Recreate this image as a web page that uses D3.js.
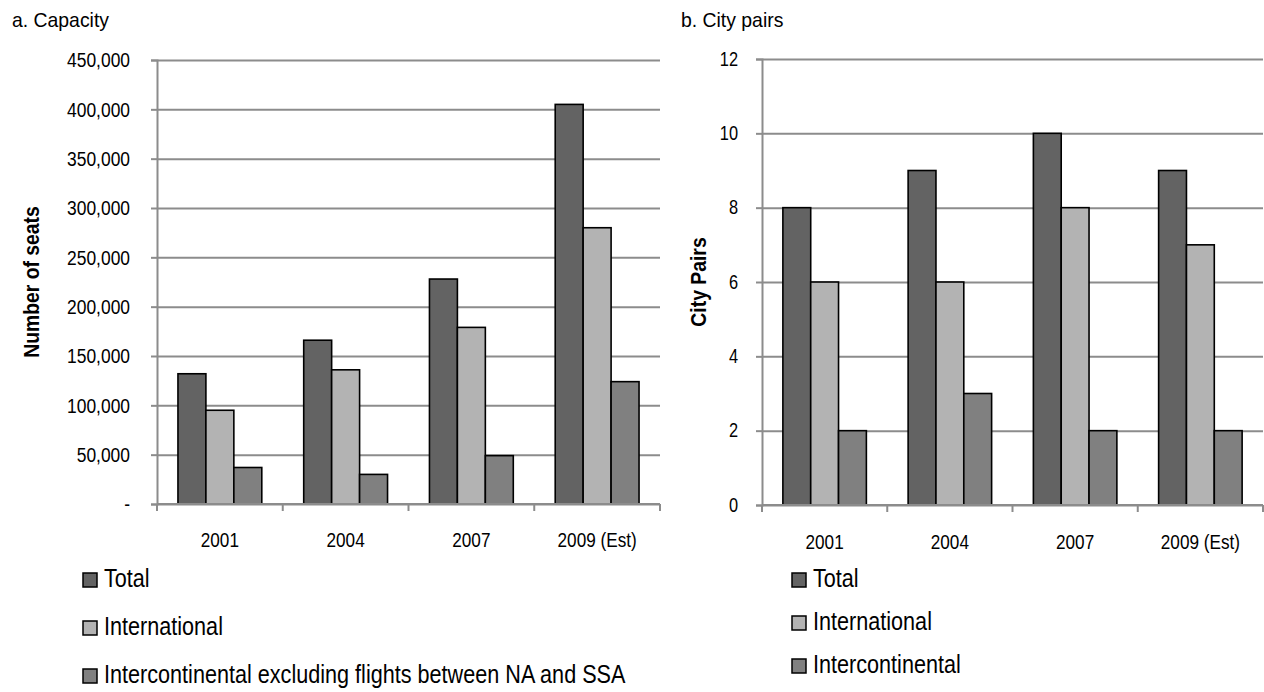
<!DOCTYPE html>
<html>
<head>
<meta charset="utf-8">
<script src="https://cdn.jsdelivr.net/npm/d3@7/dist/d3.min.js"></script>
<style>
  html, body { margin: 0; padding: 0; background: #fff; }
  svg { display: block; font-family: "Liberation Sans", Arial, sans-serif; }
</style>
</head>
<body>
<svg id="chart" width="1264" height="692"></svg>
<script>
// ---- data ----
const categories = ["2001", "2004", "2007", "2009 (Est)"];
const seriesKeys = ["Total", "International", "Intercontinental"];
const seriesColors = ["#636363", "#b3b3b3", "#808080"];

const capacityLegend = ["Total", "International", "Intercontinental excluding flights between NA and SSA"];
const capacityTotal = [132000, 166000, 228000, 405000];
const capacityInternational = [95000, 136000, 179000, 280000];
const capacityIntercontinental = [37000, 30000, 49000, 124000];
const capacityTicks = [0, 50000, 100000, 150000, 200000, 250000, 300000, 350000, 400000, 450000];

const cityLegend = ["Total", "International", "Intercontinental"];
const cityTotal = [8, 9, 10, 9];
const cityInternational = [6, 6, 8, 7];
const cityIntercontinental = [2, 3, 2, 2];
const cityTicks = [0, 2, 4, 6, 8, 10, 12];

const svg = d3.select("#chart");
const gridColor = "#8c8c8c";

// horizontally condense text (emulates a narrow face)
function narrow(sel, s) {
  sel.each(function () {
    const t = d3.select(this);
    const x = +t.attr("x") || 0;
    t.attr("x", x / s).attr("transform", `scale(${s},1)`);
  });
}

function drawPanel(cfg) {
  const g = svg.append("g");
  const x = d3.scaleBand().domain(categories).range([cfg.left, cfg.right]).paddingInner(0).paddingOuter(0);
  const unit = x.bandwidth() / 4.5;
  const xs = d3.scaleBand().domain(seriesKeys).range([unit * 0.75, x.bandwidth() - unit * 0.75]).padding(0);
  const y = d3.scaleLinear().domain([0, cfg.max]).range([cfg.bottom, cfg.top]);

  // gridlines
  const grid = g.append("g").attr("transform", `translate(${cfg.left},0)`)
    .call(d3.axisLeft(y).tickValues(cfg.ticks).tickSize(-(cfg.right - cfg.left)).tickFormat(""));
  grid.select(".domain").remove();
  grid.selectAll("line").attr("stroke", gridColor).attr("stroke-width", 2);

  // y axis with labels
  const ya = g.append("g").attr("transform", `translate(${cfg.left},0)`)
    .call(d3.axisLeft(y).tickValues(cfg.ticks).tickSize(6).tickPadding(cfg.yPad).tickFormat(cfg.fmt));
  ya.select(".domain").attr("stroke", gridColor).attr("stroke-width", 2);
  ya.selectAll("line").attr("stroke", gridColor).attr("stroke-width", 2);
  ya.selectAll("text").attr("font-size", cfg.yFont).attr("fill", "#000").call(narrow, cfg.yScale);

  // bars
  const rows = categories.map((c, i) => ({ cat: c, vals: cfg.series.map((s, j) => ({ key: seriesKeys[j], v: s[i], j })) }));
  const grp = g.append("g").selectAll("g").data(rows).join("g")
    .attr("transform", d => `translate(${x(d.cat)},0)`);
  grp.selectAll("rect").data(d => d.vals).join("rect")
    .attr("x", d => xs(d.key))
    .attr("width", xs.bandwidth())
    .attr("y", d => y(d.v))
    .attr("height", d => y(0) - y(d.v))
    .attr("fill", d => seriesColors[d.j])
    .attr("stroke", "#000")
    .attr("stroke-width", 1.6);

  // x axis
  const xa = g.append("g").attr("transform", `translate(0,${cfg.bottom})`)
    .call(d3.axisBottom(x).tickSize(0).tickPadding(cfg.xPad));
  xa.select(".domain").remove();
  xa.selectAll("text").attr("font-size", cfg.xFont).attr("fill", "#000").call(narrow, 0.88);
  g.append("line").attr("x1", cfg.left).attr("x2", cfg.right).attr("y1", cfg.bottom).attr("y2", cfg.bottom)
    .attr("stroke", gridColor).attr("stroke-width", 2);
  const bounds = categories.map(c => x(c)).concat([x.range()[1]]);
  g.append("g").selectAll("line").data(bounds).join("line")
    .attr("x1", d => d).attr("x2", d => d)
    .attr("y1", cfg.bottom).attr("y2", cfg.bottom + 7)
    .attr("stroke", gridColor).attr("stroke-width", 2);

  // axis title
  g.append("text")
    .attr("transform", `translate(${cfg.titleX},${(cfg.top + cfg.bottom) / 2}) rotate(-90) scale(0.88,1)`)
    .attr("text-anchor", "middle")
    .attr("font-weight", "bold")
    .attr("font-size", cfg.titleFont)
    .text(cfg.yTitle);

  // panel title
  g.append("text").attr("x", cfg.headX).attr("y", cfg.headY)
    .attr("font-size", 20).text(cfg.head).call(narrow, 0.97);

  // legend
  const lg = g.append("g").selectAll("g").data(cfg.legend).join("g")
    .attr("transform", (d, i) => `translate(${cfg.legX},${cfg.legY + i * cfg.legStep})`);
  lg.append("rect").attr("x", 0).attr("y", -14).attr("width", 14).attr("height", 14)
    .attr("fill", (d, i) => seriesColors[i]).attr("stroke", "#000").attr("stroke-width", 1.5);
  lg.append("text").attr("x", 21).attr("y", 0).attr("font-size", 25).text(d => d).call(narrow, 0.865);
}

drawPanel({
  left: 157, right: 660, top: 60, bottom: 504, max: 450000,
  ticks: capacityTicks,
  fmt: d => d === 0 ? "-" : d3.format(",")(d),
  yPad: 21, yFont: 21, yScale: 0.83, xPad: 29, xFont: 19.5,
  series: [capacityTotal, capacityInternational, capacityIntercontinental],
  yTitle: "Number of seats", titleX: 39, titleFont: 22,
  head: "a. Capacity", headX: 12, headY: 27,
  legend: capacityLegend, legX: 83, legY: 587, legStep: 48
});

drawPanel({
  left: 762, right: 1263, top: 59, bottom: 505, max: 12,
  ticks: cityTicks,
  fmt: d3.format("d"),
  yPad: 18, yFont: 19.5, yScale: 0.84, xPad: 30, xFont: 19.5,
  series: [cityTotal, cityInternational, cityIntercontinental],
  yTitle: "City Pairs", titleX: 706, titleFont: 22,
  head: "b. City pairs", headX: 681, headY: 27,
  legend: cityLegend, legX: 792, legY: 587, legStep: 43
});
</script>
</body>
</html>
